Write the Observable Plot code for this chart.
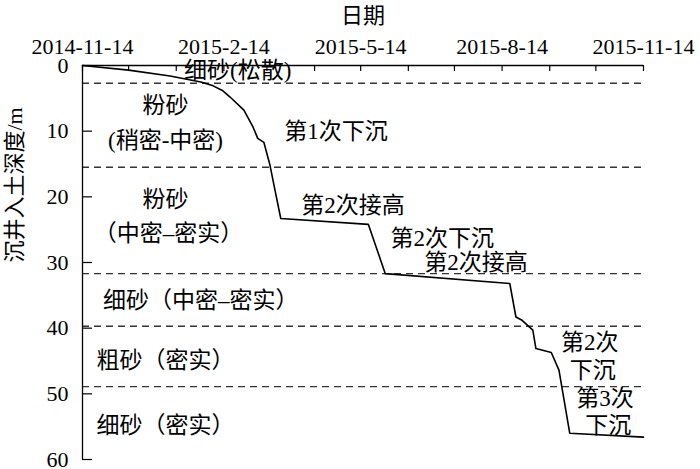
<!DOCTYPE html>
<html><head><meta charset="utf-8">
<script src="https://cdn.jsdelivr.net/npm/d3@7"></script>
<script src="https://cdn.jsdelivr.net/npm/@observablehq/plot@0.6"></script>
<style>body{margin:0;background:#fff}</style>
</head><body><div id="chart"></div>
<script>
// sinking curve
const sinkDates = ["2014-11-14","2014-12-14","2015-01-10","2015-01-30","2015-02-07","2015-02-13","2015-02-18","2015-02-27","2015-03-05","2015-03-08","2015-03-12","2015-03-16","2015-03-19","2015-03-23","2015-05-19","2015-05-30","2015-08-19","2015-08-23","2015-08-27","2015-09-03","2015-09-05","2015-09-15","2015-09-20","2015-09-27","2015-11-14"];
const sinkDepths = [0,0.7,1.6,2.5,3.1,3.8,4.8,6.8,9.4,11.1,11.7,15.2,18.7,23.3,24.2,31.7,33.2,38.3,38.8,40.3,43.1,43.7,46.4,56.0,56.6];
// soil layer boundaries (m)
const layerBoundaries = [2.7, 15.5, 31.7, 39.7, 48.9];
// axis ticks
const xStart = "2014-11-14", xEnd = "2015-11-14";
const xTickDates = ["2014-11-14","2015-02-14","2015-05-14","2015-08-14","2015-11-14"];
const xTickLabels = ["2014-11-14","2015-2-14","2015-5-14","2015-8-14","2015-11-14"];
const yTicks = [0,10,20,30,40,50,60];
// annotations
const noteTexts = ["细砂(松散)","粉砂","(稍密-中密)","第1次下沉","粉砂","（中密–密实）","第2次接高","第2次下沉","第2次接高","细砂（中密–密实）","粗砂（密实）","第2次","下沉","第3次","下沉","细砂（密实）"];
const noteDates = ["2015-02-23","2015-01-07","2015-01-07","2015-04-28","2015-01-07","2015-01-09","2015-05-09","2015-07-06","2015-07-28","2015-01-30","2015-01-07","2015-10-10","2015-10-12","2015-10-20","2015-10-22","2015-01-07"];
const noteDepths = [0.76,6.1,11.4,10.0,20.5,25.6,21.3,26.3,30.0,35.8,44.9,42.2,46.4,50.7,54.8,54.8];

const parse = d3.utcParse("%Y-%m-%d");
const series = sinkDates.map((d,i)=>({date:parse(d), depth:sinkDepths[i]}));
const notes = noteTexts.map((t,i)=>({text:t, date:parse(noteDates[i]), depth:noteDepths[i]}));
const start = parse(xStart), end = parse(xEnd);
const monthTicks = d3.range(0,13).map(i=>d3.utcMonth.offset(start,i));
const labelMap = new Map(xTickDates.map((d,i)=>[+parse(d), xTickLabels[i]]));
const font = "'Liberation Serif','Noto Sans CJK SC',serif";
const W = 700, H = 469, ML = 82, MR = 57, MT = 65, MB = 10;
const yMax = 60;
// inward tick lengths in data units (6px down, 10px right)
const xTickLen = yMax * 6 / (H - MT - MB);
const yTickEnd = new Date(+start + (end - start) * 10 / (W - ML - MR));

const chart = Plot.plot({
  width:W, height:H,
  marginLeft:ML, marginRight:MR, marginTop:MT, marginBottom:MB,
  style:{fontFamily:font, fontSize:"22px", background:"#fff", color:"#000"},
  x:{type:"utc", domain:[start,end], label:null},
  y:{domain:[0,yMax], reverse:true, label:null},
  marks:[
    Plot.ruleY(layerBoundaries, {stroke:"#333", strokeWidth:1.4, strokeDasharray:"7,5"}),
    Plot.ruleY([0], {stroke:"#000", strokeWidth:1.3}),
    Plot.ruleX([start], {stroke:"#000", strokeWidth:1.3}),
    Plot.ruleX(monthTicks, {y1:0, y2:xTickLen, stroke:"#000", strokeWidth:1.2}),
    Plot.ruleY(yTicks, {x1:start, x2:yTickEnd, stroke:"#000", strokeWidth:1.2}),
    Plot.axisX(xTickDates.map(parse), {anchor:"top", tickSize:0, tickPadding:12, tickFormat:d=>labelMap.get(+d), label:null, fontSize:22, fontFamily:font}),
    Plot.axisY(yTicks, {anchor:"left", tickSize:0, tickPadding:14, label:null, fontSize:22, fontFamily:font}),
    Plot.line(series, {x:"date", y:"depth", stroke:"#000", strokeWidth:1.6}),
    Plot.text(notes, {x:"date", y:"depth", text:"text", fontSize:23, fill:"#000", fontFamily:font}),
    Plot.text(["日期"], {frameAnchor:"top", dy:-58, fontSize:22, fill:"#000", fontFamily:font}),
    Plot.text(["沉井入土深度/m"], {frameAnchor:"left", dx:-68, rotate:-90, fontSize:22, fill:"#000", fontFamily:font})
  ]
});
document.getElementById("chart").appendChild(chart);
</script></body></html>
